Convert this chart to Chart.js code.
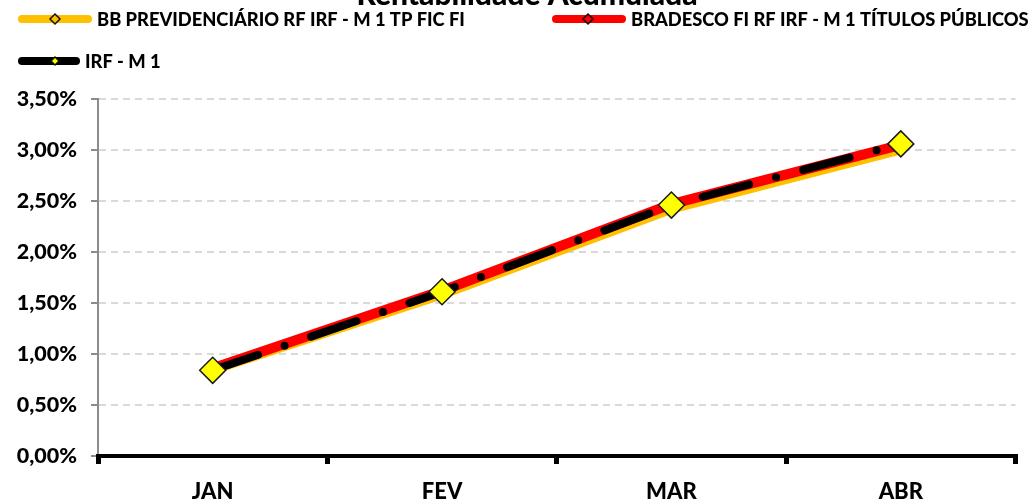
<!DOCTYPE html>
<html>
<head>
<meta charset="utf-8">
<script src="https://cdn.jsdelivr.net/npm/chart.js@4/dist/chart.umd.min.js"></script>
<style>
  html, body { margin: 0; background: #fff; }
  #grafico { display: block; }
</style>
</head>
<body>
<canvas id="grafico" width="1030" height="500"></canvas>
<script>
const meses = ["JAN", "FEV", "MAR", "ABR"];
const bbPrev = [0.84, 1.58, 2.42, 3.00];
const bradesco = [0.86, 1.62, 2.47, 3.05];
const irfM1 = [0.84, 1.61, 2.46, 3.06];
const nomes = [
  "BB PREVIDENCIÁRIO RF IRF - M 1 TP FIC FI",
  "BRADESCO FI RF IRF - M 1 TÍTULOS PÚBLICOS",
  "IRF - M 1"
];
const titulo = "Rentabilidade Acumulada";

const FONTE = "Lato";

function losango(ctx, x, y, r, fill) {
  ctx.beginPath();
  ctx.moveTo(x, y - r);
  ctx.lineTo(x + r, y);
  ctx.lineTo(x, y + r);
  ctx.lineTo(x - r, y);
  ctx.closePath();
  ctx.fillStyle = fill;
  ctx.fill();
  ctx.lineWidth = 1.5;
  ctx.strokeStyle = "#111";
  ctx.stroke();
}

// titulo cortado no topo + legenda em duas linhas, como no original
const legendaTopo = {
  id: "legendaTopo",
  afterDraw(chart) {
    const ctx = chart.ctx;
    const ds = chart.data.datasets;
    ctx.save();
    ctx.fillStyle = "#000";
    ctx.font = "900 30px " + FONTE;
    ctx.textAlign = "center";
    ctx.textBaseline = "alphabetic";
    ctx.fillText(titulo, 527, 5);

    const itens = [
      { i: 0, x: 18, y: 19, len: 74, mk: 55, fill: "#FFC000", r: 5 },
      { i: 1, x: 552, y: 19, len: 74, mk: 588, fill: "#FF0000", r: 5 },
      { i: 2, x: 18, y: 61, len: 62, mk: 55, fill: "#FFFF00", r: 4 }
    ];
    itens.forEach(it => {
      const d = ds[it.i];
      ctx.lineCap = "round";
      ctx.lineWidth = 8;
      ctx.strokeStyle = d.borderColor;
      ctx.beginPath();
      ctx.moveTo(it.x + 4, it.y);
      ctx.lineTo(it.x + it.len - 4, it.y);
      ctx.stroke();
      losango(ctx, it.mk, it.y, it.r, it.fill);
      ctx.fillStyle = "#000";
      ctx.font = "900 18.3px " + FONTE;
      ctx.textAlign = "left";
      ctx.textBaseline = "middle";
      ctx.fillText(d.label, it.x + it.len + 5, it.y + 1);
    });
    ctx.restore();
  }
};

new Chart(document.getElementById("grafico"), {
  type: "line",
  data: {
    labels: meses,
    datasets: [
      {
        label: nomes[0],
        data: bbPrev,
        borderColor: "#FFC000",
        borderWidth: 9,
        pointRadius: 0,
        borderJoinStyle: "round",
        order: 3
      },
      {
        label: nomes[1],
        data: bradesco,
        borderColor: "#FF0000",
        borderWidth: 10,
        pointRadius: 0,
        borderJoinStyle: "round",
        order: 2
      },
      {
        label: nomes[2],
        data: irfM1,
        borderColor: "#000",
        borderWidth: 8,
        borderDash: [48, 28, 0, 28],
        borderCapStyle: "round",
        borderJoinStyle: "round",
        pointStyle: "rectRot",
        pointRadius: 13,
        pointBackgroundColor: "#FFFF00",
        pointBorderColor: "#1a1a1a",
        pointBorderWidth: 1.5,
        order: 1
      }
    ]
  },
  options: {
    responsive: false,
    animation: false,
    layout: { padding: { top: 99, right: 12, left: 0, bottom: 0 } },
    plugins: {
      legend: { display: false },
      tooltip: { enabled: false }
    },
    scales: {
      x: {
        offset: true,
        grid: {
          offset: true,
          drawOnChartArea: false,
          drawTicks: true,
          tickLength: 8,
          color: "#000",
          lineWidth: 5
        },
        border: { color: "#000", width: 4, z: 1 },
        ticks: {
          color: "#000",
          padding: 15,
          font: { family: FONTE, weight: "900", size: 22 }
        },
        afterFit(s) { s.height = 44; }
      },
      y: {
        min: 0,
        max: 3.5,
        ticks: {
          stepSize: 0.5,
          color: "#000",
          padding: 14,
          font: { family: FONTE, weight: "900", size: 21.5 },
          callback: v => v.toFixed(2).replace(".", ",") + "%"
        },
        grid: {
          color: c => (c.tick && c.tick.value === 0 ? "rgba(0,0,0,0)" : "#d9d9d9"),
          lineWidth: 2,
          tickLength: 7,
          tickColor: "#8c8c8c"
        },
        border: { color: "#8c8c8c", width: 2, dash: [7, 5] },
        afterFit(s) { s.width = 98; }
      }
    }
  },
  plugins: [legendaTopo]
});
</script>
</body>
</html>
